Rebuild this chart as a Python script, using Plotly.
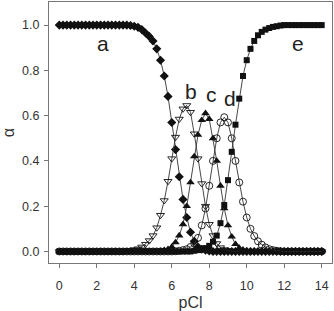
import plotly.graph_objects as go

# ---- data ----
pcl = [0.0, 0.2, 0.4, 0.6, 0.8, 1.0, 1.2, 1.4, 1.6, 1.8,
       2.0, 2.2, 2.4, 2.6, 2.8, 3.0, 3.2, 3.4, 3.6, 3.8,
       4.0, 4.2, 4.4, 4.6, 4.8, 5.0, 5.2, 5.4, 5.6, 5.8,
       6.0, 6.2, 6.4, 6.6, 6.8, 7.0, 7.2, 7.4, 7.6, 7.8,
       8.0, 8.2, 8.4, 8.6, 8.8, 9.0, 9.2, 9.4, 9.6, 9.8,
       10.0, 10.2, 10.4, 10.6, 10.8, 11.0, 11.2, 11.4, 11.6, 11.8,
       12.0, 12.2, 12.4, 12.6, 12.8, 13.0, 13.2, 13.4, 13.6, 13.8,
       14.0]

alpha_a = [1.0, 1.0, 1.0, 1.0, 1.0, 1.0, 1.0, 1.0, 1.0, 1.0,
           1.0, 1.0, 1.0, 1.0, 1.0, 1.0, 1.0, 1.0, 1.0, 0.998,
           0.995, 0.99, 0.98, 0.965, 0.95, 0.93, 0.895, 0.845, 0.775, 0.685,
           0.57, 0.45, 0.33, 0.23, 0.15, 0.085, 0.045, 0.02, 0.01, 0.005,
           0.002, 0.0, 0.0, 0.0, 0.0, 0.0, 0.0, 0.0, 0.0, 0.0,
           0.0, 0.0, 0.0, 0.0, 0.0, 0.0, 0.0, 0.0, 0.0, 0.0,
           0.0, 0.0, 0.0, 0.0, 0.0, 0.0, 0.0, 0.0, 0.0, 0.0,
           0.0]

alpha_b = [0.0, 0.0, 0.0, 0.0, 0.0, 0.0, 0.0, 0.0, 0.0, 0.0,
           0.0, 0.0, 0.0, 0.0, 0.0, 0.0, 0.0, 0.0, 0.003, 0.005,
           0.008, 0.012, 0.02, 0.032, 0.048, 0.07, 0.105, 0.16, 0.225, 0.31,
           0.41, 0.505, 0.585, 0.63, 0.645, 0.615, 0.52, 0.41, 0.3, 0.2,
           0.12, 0.07, 0.035, 0.017, 0.008, 0.004, 0.002, 0.0, 0.0, 0.0,
           0.0, 0.0, 0.0, 0.0, 0.0, 0.0, 0.0, 0.0, 0.0, 0.0,
           0.0, 0.0, 0.0, 0.0, 0.0, 0.0, 0.0, 0.0, 0.0, 0.0,
           0.0]

alpha_c = [0.0, 0.0, 0.0, 0.0, 0.0, 0.0, 0.0, 0.0, 0.0, 0.0,
           0.0, 0.0, 0.0, 0.0, 0.0, 0.0, 0.0, 0.0, 0.0, 0.0,
           0.0, 0.0, 0.0, 0.0, 0.0, 0.0, 0.0, 0.002, 0.005, 0.01,
           0.02, 0.04, 0.07, 0.12, 0.2, 0.305, 0.42, 0.515, 0.58, 0.61,
           0.585, 0.5, 0.4, 0.29, 0.19, 0.115, 0.065, 0.032, 0.015, 0.007,
           0.003, 0.0, 0.0, 0.0, 0.0, 0.0, 0.0, 0.0, 0.0, 0.0,
           0.0, 0.0, 0.0, 0.0, 0.0, 0.0, 0.0, 0.0, 0.0, 0.0,
           0.0]

alpha_d = [0.0, 0.0, 0.0, 0.0, 0.0, 0.0, 0.0, 0.0, 0.0, 0.0,
           0.0, 0.0, 0.0, 0.0, 0.0, 0.0, 0.0, 0.0, 0.0, 0.0,
           0.0, 0.0, 0.0, 0.0, 0.0, 0.0, 0.0, 0.0, 0.0, 0.0,
           0.0, 0.001, 0.003, 0.006, 0.01, 0.02, 0.035, 0.06, 0.115, 0.19,
           0.29, 0.4, 0.5, 0.57, 0.593, 0.57, 0.5, 0.4, 0.305, 0.22,
           0.15, 0.1, 0.068, 0.045, 0.03, 0.018, 0.01, 0.006, 0.003, 0.001,
           0.0, 0.0, 0.0, 0.0, 0.0, 0.0, 0.0, 0.0, 0.0, 0.0,
           0.0]

alpha_e = [0.0, 0.0, 0.0, 0.0, 0.0, 0.0, 0.0, 0.0, 0.0, 0.0,
           0.0, 0.0, 0.0, 0.0, 0.0, 0.0, 0.0, 0.0, 0.0, 0.0,
           0.0, 0.0, 0.0, 0.0, 0.0, 0.0, 0.0, 0.0, 0.0, 0.0,
           0.0, 0.0, 0.0, 0.0, 0.0, 0.0, 0.003, 0.006, 0.01, 0.015,
           0.025, 0.043, 0.07, 0.125, 0.205, 0.315, 0.44, 0.56, 0.675, 0.775,
           0.845, 0.895, 0.93, 0.955, 0.97, 0.98, 0.987, 0.992, 0.995, 0.998,
           1.0, 1.0, 1.0, 1.0, 1.0, 1.0, 1.0, 1.0, 1.0, 1.0,
           1.0]

series_names = ["a", "b", "c", "d", "e"]
x_ticks = [0, 2, 4, 6, 8, 10, 12, 14]
y_ticks = [0.0, 0.2, 0.4, 0.6, 0.8, 1.0]
y_tick_labels = ["0.0", "0.2", "0.4", "0.6", "0.8", "1.0"]

# ---- styles / label placement ----
styles = {
    "a": dict(symbol="diamond", color="#111111", size=7),
    "b": dict(symbol="triangle-down-open", color="#111111", size=7),
    "c": dict(symbol="triangle-up", color="#111111", size=7.5),
    "d": dict(symbol="circle-open", color="#111111", size=7),
    "e": dict(symbol="square", color="#111111", size=6),
}
label_pos = {"a": (2.33, 0.92), "b": (7.03, 0.705), "c": (8.1, 0.695),
             "d": (9.1, 0.675), "e": (12.74, 0.92)}

data = {"a": alpha_a, "b": alpha_b, "c": alpha_c, "d": alpha_d, "e": alpha_e}

FONT = "Liberation Sans, Arial, sans-serif"

fig = go.Figure()
for name in series_names:
    st = styles[name]
    open_m = st["symbol"].endswith("open")
    fig.add_trace(go.Scatter(
        x=pcl, y=data[name], mode="lines+markers", name=name,
        line=dict(color="#333333", width=0.9),
        marker=dict(symbol=st["symbol"], size=st["size"], color=st["color"],
                    line=dict(color="#111111", width=0.9 if open_m else 0)),
        showlegend=False,
    ))

for name in series_names:
    lx, ly = label_pos[name]
    fig.add_annotation(x=lx, y=ly, text=name, showarrow=False,
                       font=dict(family=FONT, size=21, color="#222222"))

axis_common = dict(showline=True, linecolor="#777777", linewidth=1.3, mirror=True,
                   showgrid=False, zeroline=False, ticks="outside", ticklen=4,
                   tickcolor="#777777", tickwidth=1,
                   tickfont=dict(family=FONT, size=12.5, color="#333333"))

fig.update_xaxes(range=[-0.55, 14.55], tickvals=x_ticks, ticklabelstandoff=7,
                 title=dict(text="pCl", standoff=6,
                            font=dict(family=FONT, size=16, color="#333333")),
                 **axis_common)
fig.update_yaxes(range=[-0.051, 1.102], tickvals=y_ticks, ticktext=y_tick_labels,
                 ticklabelstandoff=2,
                 title=dict(text="α", standoff=6,
                            font=dict(family=FONT, size=16, color="#333333")),
                 **axis_common)

fig.update_layout(width=334, height=311,
                  margin=dict(l=49, r=2, t=1, b=46),
                  plot_bgcolor="white", paper_bgcolor="white")

fig.write_html("out.html")
